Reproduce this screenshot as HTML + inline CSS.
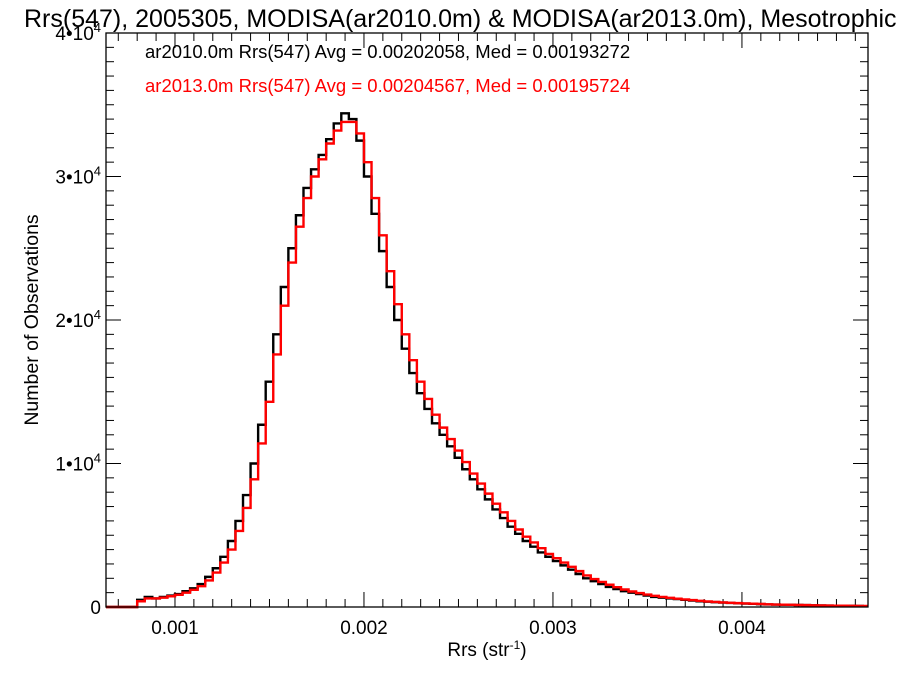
<!DOCTYPE html>
<html><head><meta charset="utf-8"><style>
body{margin:0;background:#fff;overflow:hidden}
svg text{font-family:"Liberation Sans",sans-serif}
</style></head><body>
<svg id="chart" width="900" height="675" xmlns="http://www.w3.org/2000/svg">
<text x="24" y="27" font-size="25">Rrs(547), 2005305, MODISA(ar2010.0m) &amp; MODISA(ar2013.0m), Mesotrophic</text>
<text x="145" y="58" font-size="18.5" fill="#000">ar2010.0m Rrs(547) Avg = 0.00202058, Med = 0.00193272</text>
<text x="145" y="92" font-size="18.5" fill="#ff0000">ar2013.0m Rrs(547) Avg = 0.00204567, Med = 0.00195724</text>
<text transform="translate(38,320) rotate(-90)" text-anchor="middle" font-size="19.5">Number of Observations</text>
<text x="487" y="656" text-anchor="middle" font-size="19">Rrs (str<tspan dy="-7" font-size="12">-1</tspan><tspan dy="7">)</tspan></text>
<g id="axes"></g>
<g id="series"></g>
<rect x="106" y="33" width="762" height="574" fill="none" stroke="#000" stroke-width="1.3"/>
</svg>
<script>
const binStart = 0.00064;
const binWidth = 0.00004;
const xTicks = [0.001, 0.002, 0.003, 0.004];
const xTickLabels = ["0.001", "0.002", "0.003", "0.004"];
const yTicks = [0, 10000, 20000, 30000, 40000];
const yTickMant = ["0", "1", "2", "3", "4"];
const countsAr2010 = [0,0,0,0,0.5,0.7,0.6,0.7,0.8,0.9,1.1,1.3,1.6,2.1,2.7,3.5,4.6,6.0,7.8,10.0,12.7,15.7,19.0,22.3,25.0,27.3,29.2,30.5,31.5,32.6,33.7,34.4,34.0,32.5,30.0,27.4,24.8,22.3,20.0,18.0,16.3,14.9,13.8,12.8,12.0,11.2,10.4,9.6,8.9,8.2,7.5,6.8,6.2,5.6,5.1,4.6,4.2,3.8,3.5,3.2,2.9,2.6,2.3,2.0,1.8,1.6,1.4,1.25,1.1,1.0,0.9,0.8,0.7,0.65,0.6,0.55,0.5,0.45,0.4,0.37,0.34,0.31,0.28,0.26,0.24,0.22,0.2,0.18,0.17,0.16,0.15,0.14,0.13,0.12,0.11,0.1,0.09,0.08,0.08,0.07,0.06];
const countsAr2013 = [0,0,0,0,0.4,0.6,0.6,0.65,0.75,0.85,1.0,1.2,1.45,1.85,2.4,3.1,4.0,5.3,6.9,8.9,11.4,14.3,17.6,21.0,24.0,26.5,28.5,30.0,31.2,32.3,33.2,33.8,33.8,33.0,31.0,28.5,25.9,23.4,21.1,19.0,17.2,15.7,14.5,13.4,12.5,11.7,10.9,10.1,9.3,8.6,7.9,7.2,6.6,6.0,5.4,4.9,4.5,4.1,3.7,3.4,3.1,2.8,2.5,2.2,1.95,1.75,1.55,1.38,1.22,1.08,0.97,0.87,0.78,0.7,0.64,0.58,0.53,0.48,0.43,0.39,0.35,0.32,0.29,0.27,0.25,0.23,0.21,0.19,0.17,0.16,0.15,0.14,0.13,0.12,0.11,0.1,0.09,0.09,0.08,0.07];
const countScale = 1000;

const X0=106, X1=868, Y0=607, Y1=33;
const xMin=0.000635, xMax=0.004667, yMax=40000;
function xs(v){return X0+(v-xMin)/(xMax-xMin)*(X1-X0);}
function ys(v){return Y0-(v/yMax)*(Y0-Y1);}
const NS="http://www.w3.org/2000/svg";
const axes=document.getElementById('axes');
const series=document.getElementById('series');
function mk(tag,attrs,parent){const e=document.createElementNS(NS,tag);for(const k in attrs)e.setAttribute(k,attrs[k]);parent.appendChild(e);return e;}

for(let k=7; k<=46; k++){
  const v=k*0.0001;
  const major = k%10===0;
  const x=xs(v);
  const t=mk('line',{x1:x,x2:x,y1:Y0,y2:Y0-(major?15:8),stroke:'#000','stroke-width':1},axes);
  
  
  const t2=mk('line',{x1:x,x2:x,y1:Y1,y2:Y1+(major?15:8),stroke:'#000','stroke-width':1},axes);
  
  
}
xTicks.forEach((v,i)=>{
  const t=mk('text',{x:xs(v),y:Y0+27,'text-anchor':'middle','font-size':19},axes);
  t.textContent=xTickLabels[i];
  
  
});
for(let v=0; v<=40000; v+=1000){
  const major=v%10000===0;
  const y=ys(v);
  const t=mk('line',{x1:X0,x2:X0+(major?15:8),y1:y,y2:y,stroke:'#000','stroke-width':1},axes);
  
  
  const t2=mk('line',{x1:X1,x2:X1-(major?15:8),y1:y,y2:y,stroke:'#000','stroke-width':1},axes);
  
  
}
yTicks.forEach((v,i)=>{
  const t=mk('text',{x:X0-5,y:ys(v)+7,'text-anchor':'end','font-size':19},axes);
  if(v===0){t.textContent='0';}
  else{t.innerHTML=yTickMant[i]+'•10<tspan dy="-8" font-size="13">4</tspan>';}
  
  
});
function stepPath(arr){
  let d='M'+X0+','+ys(0);
  arr.forEach((c,i)=>{
    const a=Math.max(xs(binStart+i*binWidth),X0), b=Math.min(xs(binStart+(i+1)*binWidth),X1);
    const y=ys(c*countScale);
    d+=' L'+a+','+y+' L'+b+','+y;
  });
  d+=' L'+X1+','+ys(arr[arr.length-1]*countScale);
  return d;
}
const p1=mk('path',{d:stepPath(countsAr2010),fill:'none',stroke:'#000','stroke-width':2.4},series);


const p2=mk('path',{d:stepPath(countsAr2013),fill:'none',stroke:'#ff0000','stroke-width':2.4},series);


</script>
</body></html>
